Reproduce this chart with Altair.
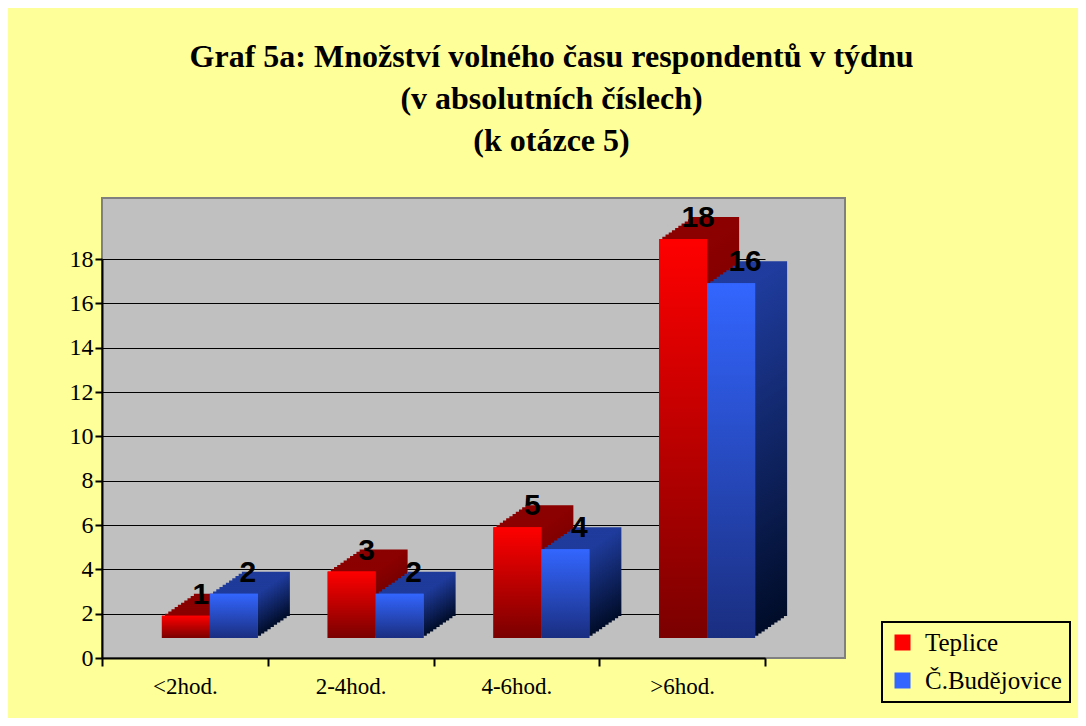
import altair as alt
import pandas as pd

categories = ["<2hod.", "2-4hod.", "4-6hod.", ">6hod."]
series = ["Teplice", "Č.Budějovice"]
teplice = [1, 3, 5, 18]
budejovice = [2, 2, 4, 16]
y_ticks = [0, 2, 4, 6, 8, 10, 12, 14, 16, 18]
title_lines = ["Graf 5a: Množství volného času respondentů v týdnu",
               "(v absolutních číslech)",
               "(k otázce 5)"]

rows = []
for c, v in zip(categories, teplice):
    rows.append({"cat": c, "series": series[0], "value": v})
for c, v in zip(categories, budejovice):
    rows.append({"cat": c, "series": series[1], "value": v})
df = pd.DataFrame(rows)

xenc = alt.X("cat:N", sort=categories,
             scale=alt.Scale(domain=categories, range=[0, 663], paddingInner=0, paddingOuter=0),
             axis=alt.Axis(title=None, tickBand="extent", domainColor="black", domainWidth=2,
                           tickColor="black", tickSize=8, tickWidth=2, labelAngle=0,
                           labelFont="Liberation Serif", labelFontSize=23, labelColor="black",
                           labelPadding=9, grid=False))
yenc = alt.Y("value:Q", stack=None,
             scale=alt.Scale(domain=[0, 18], range=[460, 61], nice=False),
             axis=alt.Axis(title=None, values=y_ticks, domainColor="black", domainWidth=2,
                           tickColor="black", tickSize=7, tickWidth=2,
                           labelFont="Liberation Serif", labelFontSize=24, labelColor="black",
                           labelPadding=2, gridColor="black", gridWidth=1))

base = alt.Chart(df).encode(x=xenc, y=yenc, y2=alt.datum(0))
red = base.transform_filter(alt.datum.series == series[0])
blue = base.transform_filter(alt.datum.series == series[1])

def grad(top, bottom):
    return alt.Gradient(gradient="linear",
                        stops=[alt.GradientStop(color=top, offset=0),
                               alt.GradientStop(color=bottom, offset=1)],
                        x1=0, x2=0, y1=0, y2=1)

W = 48
DEPTH_X, DEPTH_Y, STEPS = 32, 22, 10
RED_X, BLUE_X, LIFT = 1, 49, 20

layers = []
# extruded depth (top + side faces) built from stepped copies of the bars
for k in range(STEPS, 0, -1):
    f = k / STEPS
    dx = DEPTH_X * f
    dy = -LIFT - DEPTH_Y * f
    layers.append(red.mark_bar(width=W, xOffset=RED_X + dx, yOffset=dy, y2Offset=dy,
                               fill=grad("#8C0000", "#5A0000")))
    layers.append(blue.mark_bar(width=W, xOffset=BLUE_X + dx, yOffset=dy, y2Offset=dy,
                                fill=grad("#1F3C9E", "#000C28")))

cscale = alt.Scale(domain=series, range=["#FF0000", "#3366FF"])
legend = alt.Legend(title=None, orient="none", legendX=780, legendY=424, direction="vertical",
                    symbolType="square", symbolSize=256, symbolStrokeWidth=0,
                    labelFont="Liberation Serif", labelFontSize=25, labelColor="black",
                    fillColor="#FFFF99", strokeColor="black", padding=8, rowPadding=12,
                    labelOffset=10)
layers.append(red.mark_bar(width=W, xOffset=RED_X, yOffset=-LIFT, y2Offset=-LIFT).encode(
    color=alt.Color("series:N", scale=cscale, legend=legend)))
layers.append(blue.mark_bar(width=W, xOffset=BLUE_X, yOffset=-LIFT, y2Offset=-LIFT).encode(
    color=alt.Color("series:N", scale=cscale, legend=legend)))

layers.append(red.mark_bar(width=W, xOffset=RED_X, yOffset=-LIFT, y2Offset=-LIFT,
                           fill=grad("#FF0000", "#7A0000")))
layers.append(blue.mark_bar(width=W, xOffset=BLUE_X, yOffset=-LIFT, y2Offset=-LIFT,
                            fill=grad("#3366FF", "#1A2E80")))

lab_style = dict(font="Liberation Sans", fontWeight="bold", fontSize=30, color="black",
                 baseline="alphabetic", dy=-32)
layers.append(red.mark_text(dx=16, **lab_style).encode(text="value:Q"))
layers.append(blue.mark_text(dx=63, **lab_style).encode(text="value:Q"))

chart = alt.layer(*layers).properties(
    width=743, height=460,
    padding={"left": 94, "top": 190, "right": 233, "bottom": 60},
    autosize=alt.AutoSizeParams(type="none"),
    background="#FFFF99",
    title=alt.TitleParams(text=title_lines, font="Liberation Serif", fontSize=32,
                          fontWeight="bold", color="black", anchor="middle", frame="group",
                          dx=78, offset=40, lineHeight=42),
).configure_view(fill="#C0C0C0", stroke="#808080", strokeWidth=2).configure_legend(strokeWidth=2)

chart.save("out.html", embed_options={"renderer": "svg", "actions": False})
